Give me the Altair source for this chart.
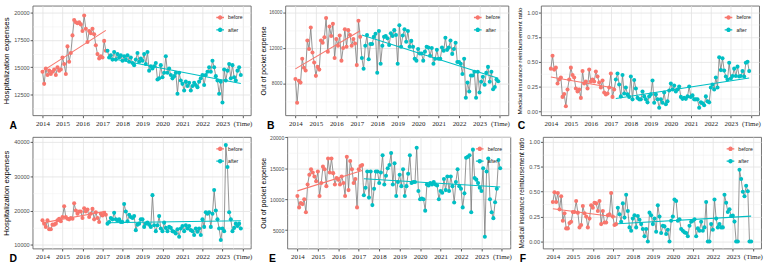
import math
import altair as alt
import pandas as pd

START_YEAR = 2014
PERIODS = ["before", "after"]
PERIOD_COLORS = ["#F8766D", "#00BFC4"]

# ---- monthly series, Jan 2014 - Mar 2017 ("before") and Apr 2017 - Dec 2023 ("after") ----
# A: hospitalization expenses (group 1)
a_before = [14600, 13500, 14900, 14300, 14700, 14400, 14600, 14800, 14300, 15000, 14700, 14800,
            15900, 15300, 14400, 16900, 15500, 16300, 17900, 19300, 19100, 19000, 19100, 18900,
            18300, 19700, 18500, 17300, 18300, 18100, 18500, 18000, 17000, 16200, 15800, 16000,
            15900, 17400, 16500]
a_after = [16500, 15900, 16100, 15700, 16400, 15700, 16200, 15900, 16100,
           15600, 16000, 15700, 16100, 15500, 15900, 15400, 15200, 15700, 16300, 15500, 15800,
           15600, 16200, 15300, 16400, 14700, 15100, 14900, 15100, 15400, 13900, 14000, 15200,
           14100, 14500, 16000, 14500, 14900, 14300, 14000, 14200, 14500, 12600, 14500, 13800,
           13500, 12900, 13700, 13300, 13600, 12900, 13300, 13600, 13400, 13200, 13700, 14000,
           14300, 13400, 14300, 14600, 15000, 14600, 15600, 15000, 14200, 13800, 12600, 13700,
           11800, 14800, 13800, 14700, 15300, 14000, 15200, 14100, 13800, 14700, 15000, 14300]

# B: out of pocket expense (group 1)
b_before = [8550, 5900, 8350, 8150, 10800, 9800, 9500, 12850, 11900, 14300, 11500, 10400,
            8900, 9900, 9600, 12850, 12600, 13200, 15350, 11600, 14400, 13350, 14700, 10900,
            13000, 12250, 13400, 10600, 12000, 14100, 12150, 14000, 13450, 12250, 13000, 12500,
            10100, 15050, 13250]
b_after = [10900, 9700, 12250, 13450, 10750, 12450, 12450, 13250, 13600,
           9250, 13900, 10250, 12250, 13250, 13350, 13100, 12350, 13650, 13350, 14000, 13450,
           10250, 14550, 12150, 13400, 14100, 12700, 13900, 12150, 12800, 12150, 10800, 10600,
           11900, 11400, 11400, 10600, 11600, 12150, 12050, 11150, 12000, 10250, 10800, 11800,
           10800, 10800, 12050, 11700, 13150, 11800, 12050, 12850, 11350, 11900, 12600, 10450,
           10450, 10250, 9100, 10800, 6450, 8150, 7150, 8950, 8950, 9350, 6450, 9350,
           7050, 8250, 8800, 7900, 9250, 9900, 8250, 9350, 7400, 7650, 8500, 8300]

# C: medical insurance reimbursement ratio (group 1)
c_before = [0.43, 0.56, 0.42, 0.44, 0.28, 0.32, 0.34, 0.145, 0.175, 0.05, 0.22, 0.32,
            0.44, 0.365, 0.34, 0.23, 0.20, 0.22, 0.135, 0.405, 0.28, 0.30, 0.23, 0.42,
            0.30, 0.32, 0.30, 0.40, 0.35, 0.29, 0.24, 0.31, 0.19, 0.17, 0.18, 0.24,
            0.38, 0.145, 0.22]
c_after = [0.32, 0.38, 0.27, 0.15, 0.365, 0.18, 0.24, 0.17, 0.145,
           0.35, 0.12, 0.315, 0.23, 0.135, 0.12, 0.12, 0.20, 0.15, 0.12, 0.09, 0.15,
           0.17, 0.31, 0.085, 0.17, 0.12, 0.035, 0.12, 0.085, 0.19, 0.07, 0.10, 0.21,
           0.28, 0.22, 0.26, 0.20, 0.22, 0.25, 0.145, 0.125, 0.135, 0.125, 0.15, 0.25,
           0.145, 0.16, 0.12, 0.12, 0.12, 0.035, 0.09, 0.08, 0.06, 0.15, 0.10, 0.09,
           0.24, 0.27, 0.22, 0.34, 0.24, 0.545, 0.415, 0.535, 0.41, 0.35, 0.32, 0.49,
           0.33, 0.355, 0.43, 0.355, 0.45, 0.35, 0.355, 0.405, 0.35, 0.49, 0.50, 0.405]

# D: hospitalization expenses (group 2)
d_before = [17140, 16190, 15240, 17140, 14570, 14570, 15900, 15900, 16190, 17140, 17620, 16860,
            18100, 21240, 18100, 17620, 17430, 17810, 17620, 22100, 20000, 19050, 19710, 19710,
            17810, 20670, 19710, 20290, 18100, 19050, 20480, 17430, 19520, 17810, 16670, 19050,
            18570, 19330, 18760]
d_after = [16190, 16670, 17810, 17430, 19330, 17430, 17140, 17430, 16670,
           16670, 21900, 19710, 16860, 18760, 18100, 17810, 18380, 14290, 15900, 16190, 17430,
           17430, 15240, 16190, 16480, 15900, 15240, 24480, 15710, 14000, 15710, 18380, 14760,
           14000, 16480, 14950, 14000, 15240, 14950, 14000, 13810, 13330, 14570, 12380, 14760,
           15520, 14000, 15710, 14760, 15520, 14290, 14000, 12860, 14760, 13810, 14760, 12860,
           17430, 15240, 19520, 19050, 19520, 15240, 19050, 26000, 20000, 17430, 14760, 11430,
           14760, 14000, 39050, 32670, 19520, 17430, 14000, 14950, 16190, 15500, 16190, 14760]

# E: out of pocket expense (group 2)
e_before = [10530, 8680, 9370, 9210, 10000, 7890, 12370, 13950, 14840, 14320, 13680, 12890,
            14470, 10530, 12630, 15260, 14840, 12110, 16580, 14320, 16580, 14210, 12370, 13420,
            13160, 12370, 13680, 12630, 10530, 16840, 11470, 16160, 14840, 12630, 13260, 8680,
            14840, 15370, 15530]
e_after = [10630, 11840, 14470, 10260, 14470, 9050, 11680, 14470, 14470,
           12630, 14320, 17110, 12370, 13790, 15000, 15530, 17470, 12370, 15790, 10530, 12790,
           13950, 12110, 14840, 10530, 12110, 14110, 17110, 12630, 12790, 12790, 18320, 11320,
           10000, 10110, 10000, 8160, 12370, 12210, 12630, 12370, 12790, 12370, 12210, 10000,
           11320, 11050, 13260, 11470, 13680, 11320, 13680, 12110, 9470, 12790, 14840, 12110,
           11680, 8680, 10950, 16680, 16840, 17110, 7890, 18000, 13420, 13160, 12630, 11840,
           11320, 15000, 3950, 14470, 16580, 10000, 7890, 6950, 9500, 11680, 16320, 15000]

# F: medical insurance reimbursement ratio (group 2)
f_before = [0.396, 0.495, 0.396, 0.488, 0.323, 0.455, 0.208, 0.284, 0.132, 0.132, 0.185, 0.198,
            0.297, 0.297, 0.406, 0.29, 0.142, 0.165, 0.356, 0.284, 0.25, 0.142, 0.23, 0.363,
            0.34, 0.39, 0.383, 0.307, 0.406, 0.175, 0.307, 0.191, 0.191, 0.264, 0.274, 0.488,
            0.25, 0.165, 0.175]
f_after = [0.34, 0.274, 0.198, 0.383, 0.24, 0.47, 0.307, 0.142, 0.109,
           0.23, 0.264, 0.142, 0.257, 0.218, 0.175, 0.125, 0.053, 0.125, 0.0, 0.29, 0.264,
           0.175, 0.23, 0.099, 0.363, 0.25, 0.086, 0.158, 0.152, 0.076, 0.119, 0.0, 0.208,
           0.25, 0.422, 0.406, 0.208, 0.224, 0.125, 0.109, 0.092, 0.086, 0.053, 0.158, 0.198,
           0.208, 0.224, 0.053, 0.132, 0.109, 0.198, 0.109, 0.142, 0.396, 0.0, 0.0, 0.175,
           0.119, 0.422, 0.23, 0.142, 0.175, 0.142, 0.142, 0.47, 0.39, 0.297, 0.323, 0.257,
           0.26, 0.20, 0.0, 0.0, 0.72, 0.627, 0.50, 0.455, 0.56, 0.505, 0.0, 0.0]

X_DOMAIN = [2013.504, 2024.413]
X_VALUES = [2014 + 0.5 * k for k in range(21)]
# legend key: short line segment with a dot in the middle
KEY_PATH = "M-1,0L1,0M-0.42,0A0.42,0.42,0,1,0,0.42,0A0.42,0.42,0,1,0,-0.42,0"


def series_frame(before, after):
    n0 = len(before)
    rows = []
    for i, v in enumerate(before + after):
        rows.append({"t": START_YEAR + i / 12.0, "value": v,
                     "period": PERIODS[0] if i < n0 else PERIODS[1]})
    return pd.DataFrame(rows)


def panel(before, after, ytitle, ydomain, ymajor, yfmt, label_size, title_size,
          title_pad, letter, letter_x, width, height):
    df = series_frame(before, after)
    step = ymajor / 2.0
    lo, hi = ydomain
    yvals = []
    k = math.ceil(lo / step)
    while k * step <= hi + 1e-9:
        yvals.append(round(k * step, 6))
        k += 1
    y_major = f"abs(datum.value / {ymajor} - round(datum.value / {ymajor})) < 0.001"
    x_major = "abs(datum.value - round(datum.value)) < 0.001"

    x_axis = alt.Axis(
        values=X_VALUES,
        labelExpr=("datum.value == 2024 ? '(Time)' : (" + x_major +
                   " ? format(datum.value, 'd') : '')"),
        labelFont="Liberation Serif", labelFontSize=7, labelColor="#1a1a1a",
        labelPadding=1.5, labelOverlap=False, labelFlush=False,
        tickSize=2.5, tickColor="#333333", tickWidth=0.8,
        tickOpacity={"condition": {"test": x_major, "value": 1}, "value": 0},
        grid=True,
        gridColor={"condition": {"test": x_major, "value": "#e2e2e2"}, "value": "#efefef"},
        gridWidth={"condition": {"test": x_major, "value": 0.8}, "value": 0.5},
        domain=False,
        title=letter, titleX=letter_x, titleY=10, titleAlign="left",
        titleBaseline="middle", titleFont="Liberation Sans", titleFontSize=10.5,
        titleFontWeight="bold", titleColor="#000000",
    )
    y_axis = alt.Axis(
        values=yvals, format=yfmt,
        labelExpr=y_major + " ? datum.label : ''",
        labelFont="Liberation Sans", labelFontSize=label_size, labelColor="#4d4d4d",
        labelPadding=1, labelOverlap=False,
        tickSize=2.5, tickColor="#333333", tickWidth=0.8,
        tickOpacity={"condition": {"test": y_major, "value": 1}, "value": 0},
        grid=True,
        gridColor={"condition": {"test": y_major, "value": "#e2e2e2"}, "value": "#efefef"},
        gridWidth={"condition": {"test": y_major, "value": 0.8}, "value": 0.5},
        domain=False,
        title=ytitle, titleFont="Liberation Sans", titleFontSize=title_size,
        titleFontWeight="normal", titleColor="#000000", titlePadding=title_pad,
    )
    x = alt.X("t:Q", scale=alt.Scale(domain=X_DOMAIN, nice=False, zero=False), axis=x_axis)
    y = alt.Y("value:Q", scale=alt.Scale(domain=list(ydomain), nice=False, zero=False),
              axis=y_axis)
    legend = alt.Legend(
        title=None, orient="none", legendX=width - 36, legendY=7,
        symbolType=KEY_PATH, symbolSize=60, symbolStrokeWidth=1.3,
        labelFont="Liberation Sans", labelFontSize=5.2, labelColor="#222222",
        rowPadding=2.5, labelOffset=3,
    )
    color = alt.Color("period:N", scale=alt.Scale(domain=PERIODS, range=PERIOD_COLORS),
                      legend=legend)

    base = alt.Chart(df)
    path = base.mark_line(color="#7a7a7a", strokeWidth=0.8).encode(x=x, y=y)
    dots = base.mark_circle(size=17, opacity=1).encode(x=x, y=y, color=color)
    trend = base.transform_regression(
        "t", "value", groupby=["period"]
    ).mark_line(strokeWidth=1.1).encode(x=x, y=y, color=color)
    return alt.layer(path, dots, trend).properties(width=width, height=height)


H1, H2 = 111, 113
row1 = alt.hconcat(
    panel(a_before, a_after, "Hospitalization expenses", (10650, 20600), 2500, "d",
          5.6, 8, 3, "A", -24, 221, H1),
    panel(b_before, b_after, "Out of pocket expense", (4510, 16730), 4000, "d",
          4.8, 7, 2, "B", -19, 226, H1),
    panel(c_before, c_after, "Medical insurance reimbursement ratio", (-0.04, 1.065), 0.25,
          ".2f", 5.6, 6.3, 4, "C", -24, 221, H1),
    spacing=6,
).resolve_scale(color="independent").resolve_legend(color="independent")
row2 = alt.hconcat(
    panel(d_before, d_after, "Hospitalization expenses", (8950, 41430), 10000, "d",
          5.6, 7.8, 3, "D", -24, 221, H2),
    panel(e_before, e_after, "Out of pocket expense", (2050, 20050), 5000, "d",
          5.2, 7.2, 2, "E", -19, 226, H2),
    panel(f_before, f_after, "Medical insurance reimbursement ratio", (-0.07, 1.05), 0.25,
          ".2f", 5.6, 6.5, 4, "F", -24, 221, H2),
    spacing=6,
).resolve_scale(color="independent").resolve_legend(color="independent")

chart = alt.vconcat(row1, row2, spacing=3).resolve_scale(
    color="independent"
).resolve_legend(color="independent").properties(
    padding={"left": 2, "top": 3, "right": 4, "bottom": 0},
    background="white",
).configure_view(stroke="#666666", strokeWidth=0.9)

chart.save("out.html", embed_options={"renderer": "svg", "actions": False})
